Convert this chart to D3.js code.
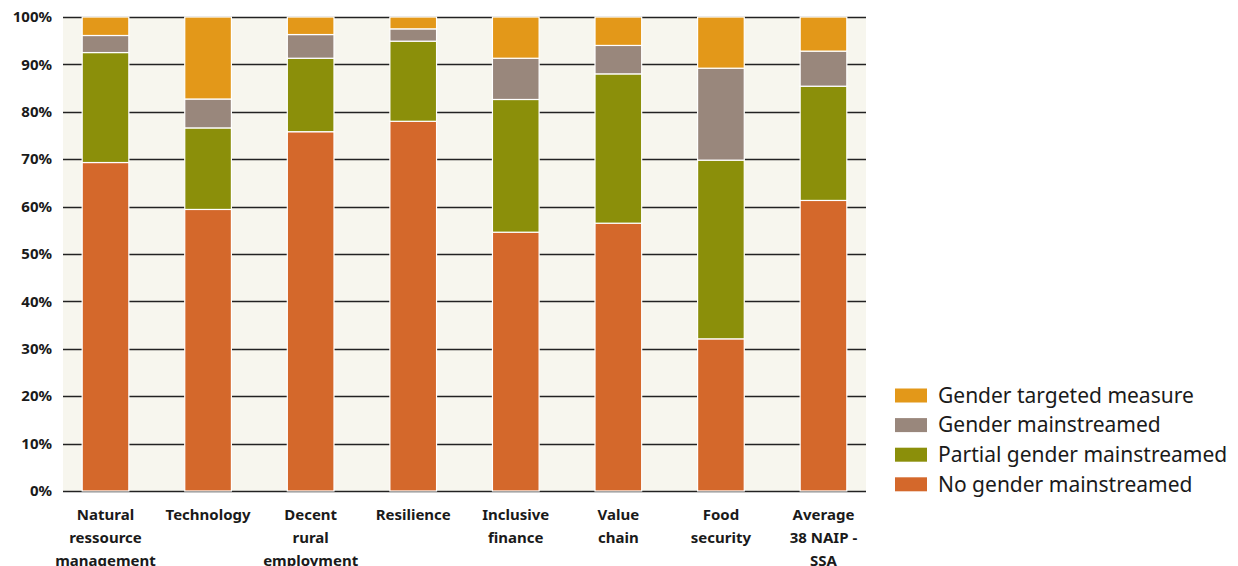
<!DOCTYPE html>
<html>
<head>
<meta charset="utf-8">
<script src="https://cdn.jsdelivr.net/npm/d3@7"></script>
<style>
  body { margin: 0; background: #fff; }
  svg { display: block; font-family: "Noto Sans", sans-serif; }
</style>
</head>
<body>
<script>
// categories (one entry per line of the x label)
var categories = [
  ["Natural", "ressource", "management"],
  ["Technology"],
  ["Decent", "rural", "employment"],
  ["Resilience"],
  ["Inclusive", "finance"],
  ["Value", "chain"],
  ["Food", "security"],
  ["Average", "38 NAIP -", "SSA"]
];

// series values, percent
var noGender      = [69.3, 59.4, 75.8, 78.0, 54.6, 56.5, 32.1, 61.3];
var partialGender = [23.2, 17.2, 15.5, 16.9, 28.0, 31.5, 37.7, 24.1];
var mainstreamed  = [3.6, 6.1, 5.0, 2.6, 8.7, 6.0, 19.4, 7.4];
var targeted      = [3.9, 17.3, 3.7, 2.5, 8.7, 6.0, 10.8, 7.2];

var seriesNames = ["No gender mainstreamed", "Partial gender mainstreamed",
                   "Gender mainstreamed", "Gender targeted measure"];
var seriesColors = ["#d4682b", "#8b8f0a", "#99877c", "#e39819"];

var yTicks = [0, 10, 20, 30, 40, 50, 60, 70, 80, 90, 100];

var W = 1238, H = 566;
var plotL = 63, plotR = 866, plotT = 17, plotB = 491;

var svg = d3.select("body").append("svg")
    .attr("width", W)
    .attr("height", H);

var rows = categories.map(function(c, i) {
  return {
    key: i,
    s0: noGender[i], s1: partialGender[i], s2: mainstreamed[i], s3: targeted[i]
  };
});

var x = d3.scaleBand()
    .domain(d3.range(categories.length))
    .range([plotL, plotR])
    .paddingInner(0.545)
    .paddingOuter(0.187);

var y = d3.scaleLinear()
    .domain([0, 100])
    .range([plotB, plotT]);

// plot background
svg.append("rect")
    .attr("x", plotL).attr("y", plotT)
    .attr("width", plotR - plotL).attr("height", plotB - plotT)
    .attr("fill", "#f7f6ee");

// gridlines
svg.append("g").selectAll("line")
  .data(yTicks)
  .enter().append("line")
    .attr("x1", plotL).attr("x2", plotR)
    .attr("y1", function(d) { return Math.round(y(d)) + 0.5; })
    .attr("y2", function(d) { return Math.round(y(d)) + 0.5; })
    .attr("stroke", "#222")
    .attr("stroke-width", 1.3);

// y axis labels
svg.append("g").selectAll("text")
  .data(yTicks)
  .enter().append("text")
    .attr("x", 52)
    .attr("y", function(d) { return y(d); })
    .attr("dy", "0.35em")
    .attr("text-anchor", "end")
    .attr("font-size", 15)
    .attr("font-weight", "bold")
    .attr("fill", "#1a1a1a")
    .text(function(d) { return d + "%"; });

var stack = d3.stack().keys(["s0", "s1", "s2", "s3"]);
var layers = stack(rows);

svg.append("g").selectAll("g")
  .data(layers)
  .enter().append("g")
    .attr("fill", function(d, i) { return seriesColors[i]; })
  .selectAll("rect")
  .data(function(d) { return d; })
  .enter().append("rect")
    .attr("x", function(d) { return x(d.data.key); })
    .attr("width", x.bandwidth())
    .attr("y", function(d) { return y(d[1]); })
    .attr("height", function(d) { return y(d[0]) - y(d[1]); })
    .attr("stroke", "#fff")
    .attr("stroke-width", 1.2);

// x labels
var xl = svg.append("g").selectAll("text")
  .data(categories)
  .enter().append("text")
    .attr("x", function(d, i) { return x(i) + x.bandwidth() / 2; })
    .attr("y", 520)
    .attr("text-anchor", "middle")
    .attr("font-size", 15)
    .attr("font-weight", "bold")
    .attr("fill", "#1a1a1a");

xl.selectAll("tspan")
  .data(function(d) { return d; })
  .enter().append("tspan")
    .attr("x", function() { return d3.select(this.parentNode).attr("x"); })
    .attr("dy", function(d, i) { return i === 0 ? 0 : 23; })
    .text(function(d) { return d; });

// legend, top entry is the top of the stack
var legendOrder = [3, 2, 1, 0];
var legend = svg.append("g").selectAll("g")
  .data(legendOrder)
  .enter().append("g")
    .attr("transform", function(d, i) { return "translate(895," + (395.5 + i * 29.6) + ")"; });

legend.append("rect")
    .attr("x", 0).attr("y", -7)
    .attr("width", 32).attr("height", 14)
    .attr("fill", function(d) { return seriesColors[d]; });

legend.append("text")
    .attr("x", 43)
    .attr("dy", "0.35em")
    .attr("font-size", 21)
    .attr("fill", "#1a1a1a")
    .text(function(d) { return seriesNames[d]; });
</script>
</body>
</html>
